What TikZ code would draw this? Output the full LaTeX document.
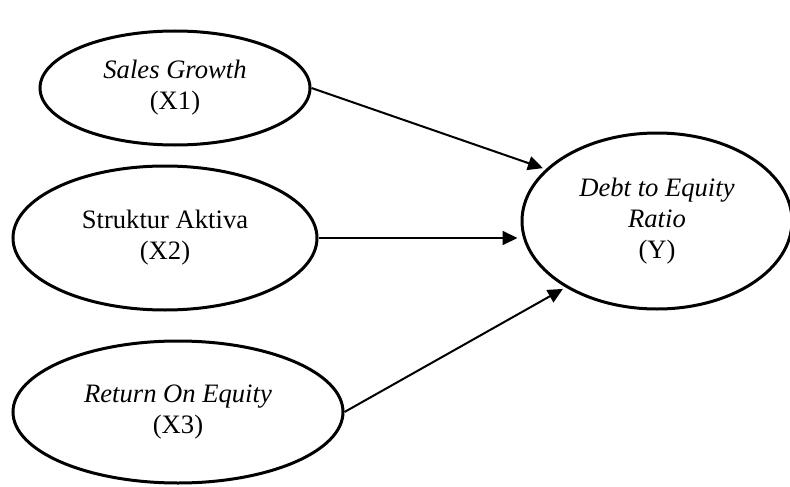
\documentclass[tikz,border=0pt]{standalone}
\usepackage{fontspec}
\setmainfont{Liberation Serif}
\usetikzlibrary{shapes.geometric,arrows.meta}
\begin{document}
\begin{tikzpicture}[x=1pt,y=-1pt,
  var/.style={draw,ellipse,line width=3pt,inner sep=0pt,align=center,
    font=\fontsize{26.6}{31}\selectfont},
  conn/.style={line width=2pt,-{Triangle[length=15pt,width=14pt]},shorten >=3pt}]
\useasboundingbox (0,0) rectangle (790,487);
\node[var,minimum width=270pt,minimum height=114pt] (X1) at (175,88) {\textit{Sales Growth}\\(X1)};
\node[var,minimum width=304pt,minimum height=144pt] (X2) at (165,238) {Struktur Aktiva\\(X2)};
\node[var,minimum width=330pt,minimum height=142pt] (X3) at (178,412) {\textit{Return On Equity}\\(X3)};
\node[var,minimum width=270pt,minimum height=176pt] (Y) at (657,221) {\textit{Debt to Equity}\\\textit{Ratio}\\(Y)};
\draw[conn] (X1.east) -- (Y.155);
\draw[conn] (X2.east) -- (Y.west |- X2.east);
\draw[conn] (X3.east) -- (Y.216);
\end{tikzpicture}
\end{document}
